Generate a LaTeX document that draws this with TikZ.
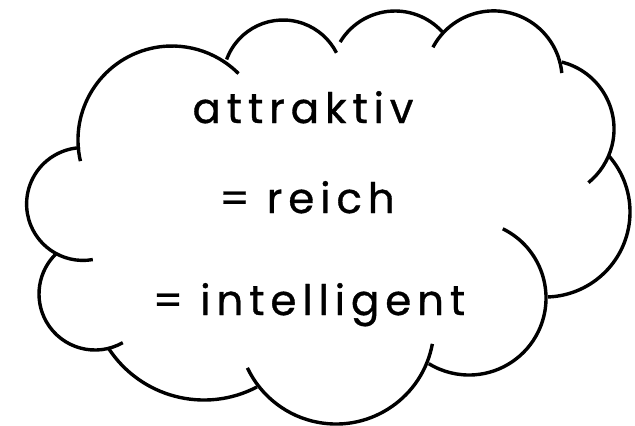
\documentclass[tikz,border=0pt]{standalone}
\usepackage{fontspec}
\newfontfamily\handfont[LetterSpace=14,FakeBold=0.8]{Poppins}
\tikzset{
  lobe/.style={draw,line width=1.7pt},
  cloudtext/.style={font=\handfont\fontsize{21}{25}\selectfont,inner sep=0pt,anchor=base}
}

\begin{document}
\begin{tikzpicture}[x=0.5pt,y=-0.5pt]
  \useasboundingbox (0,0) rectangle (635,425);
  \draw[lobe] (172,140) ++(167:94) arc[start angle=167,end angle=315,radius=94];
  \draw[lobe] (283,80) ++(200:60) arc[start angle=200,end angle=333,radius=60];
  \draw[lobe] (395,75) ++(211:64) arc[start angle=211,end angle=319,radius=64];
  \draw[lobe] (493.5,79.5) ++(208:68.6) arc[start angle=208,end angle=354.6,radius=68.6];
  \draw[lobe] (545,129) ++(284:69) arc[start angle=284,end angle=411,radius=69];
  \draw[lobe] (545,212) ++(-42:85) arc[start angle=-42,end angle=88,radius=85];
  \draw[lobe] (469,298) ++(-64:77) arc[start angle=-64,end angle=121.5,radius=77];
  \draw[lobe] (336,326) ++(10.5:98) arc[start angle=10.5,end angle=154.7,radius=98];
  \draw[lobe] (204,286) ++(62.3:114) arc[start angle=62.3,end angle=147.1,radius=114];
  \draw[lobe] (95,294) ++(60.3:56) arc[start angle=60.3,end angle=227.2,radius=56];
  \draw[lobe] (83,204) ++(80:56.4) arc[start angle=80,end angle=267,radius=56.4];

  \node[cloudtext] (attr) at (303,123) {attraktiv};
  \node[cloudtext] (reich) at (307,213) {= reich};
  \node[cloudtext] (intel) at (309,315) {= intelligent};
\end{tikzpicture}
\end{document}
